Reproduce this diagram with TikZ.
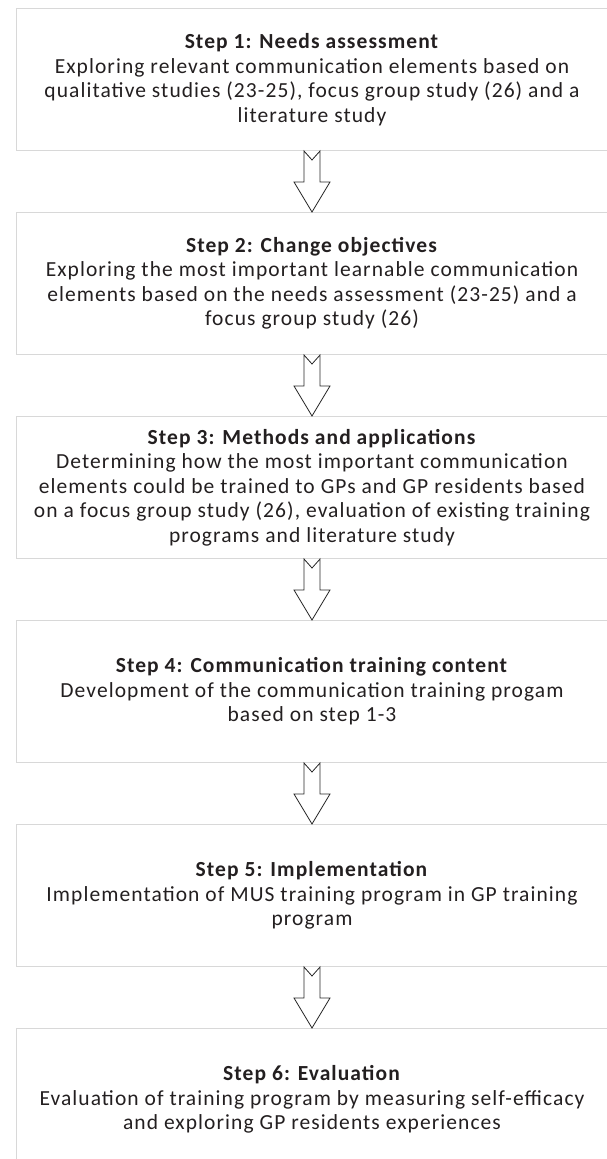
\documentclass[tikz,border=0pt]{standalone}
\usepackage{fontspec}
\setmainfont{Carlito}[LetterSpace=5]
\usetikzlibrary{positioning,calc}
\definecolor{boxgray}{RGB}{216,216,216}
\definecolor{textdark}{RGB}{35,31,32}
\definecolor{arrowdark}{RGB}{40,40,40}

\begin{document}
\begin{tikzpicture}[x=1pt, y=1pt,
    stepbox/.style={draw=boxgray, line width=1pt, minimum width=592pt,
      minimum height=142pt, inner sep=0pt, align=center, text=textdark,
      font=\fontsize{21.5}{24.5}\selectfont},
    hollow/.style={draw=arrowdark, line width=0.8pt, line join=miter}]
  \useasboundingbox (0,0) rectangle (606,-1159);

  \node[stepbox] (s1) at (312,-79.5) {
    \textbf{Step 1: Needs assessment}\\
    Exploring relevant communication elements based on\\
    qualitative studies (23-25), focus group study (26) and a\\
    literature study
  };
  \node[stepbox, below=61pt of s1] (s2) {
    \textbf{Step 2: Change objectives}\\
    Exploring the most important learnable communication\\
    elements based on the needs assessment (23-25) and a\\
    focus group study (26)
  };
  \node[stepbox, below=61pt of s2] (s3) {
    \textbf{Step 3: Methods and applications}\\
    Determining how the most important communication\\
    elements could be trained to GPs and GP residents based\\
    on a focus group study (26), evaluation of existing training\\
    programs and literature study
  };
  \node[stepbox, below=61pt of s3] (s4) {
    \textbf{Step 4: Communication training content}\\
    Development of the communication training progam\\
    based on step 1-3
  };
  \node[stepbox, below=61pt of s4] (s5) {
    \textbf{Step 5: Implementation}\\
    Implementation of MUS training program in GP training\\
    program
  };
  \node[stepbox, below=61pt of s5] (s6) {
    \textbf{Step 6: Evaluation}\\
    Evaluation of training program by measuring self-efficacy\\
    and exploring GP residents experiences
  };

  % notched block arrows between the steps
  \foreach \a/\b in {s1/s2,s2/s3,s3/s4,s4/s5,s5/s6}
    \draw[hollow] ($(\a.south)+(-8,0)$) -- ($(\b.north)+(-8,30)$)
      -- ($(\b.north)+(-18,30)$) -- (\b.north) -- ($(\b.north)+(18,30)$)
      -- ($(\b.north)+(8,30)$) -- ($(\a.south)+(8,0)$)
      -- ($(\a.south)+(0,-9)$) -- cycle;
\end{tikzpicture}
\end{document}
